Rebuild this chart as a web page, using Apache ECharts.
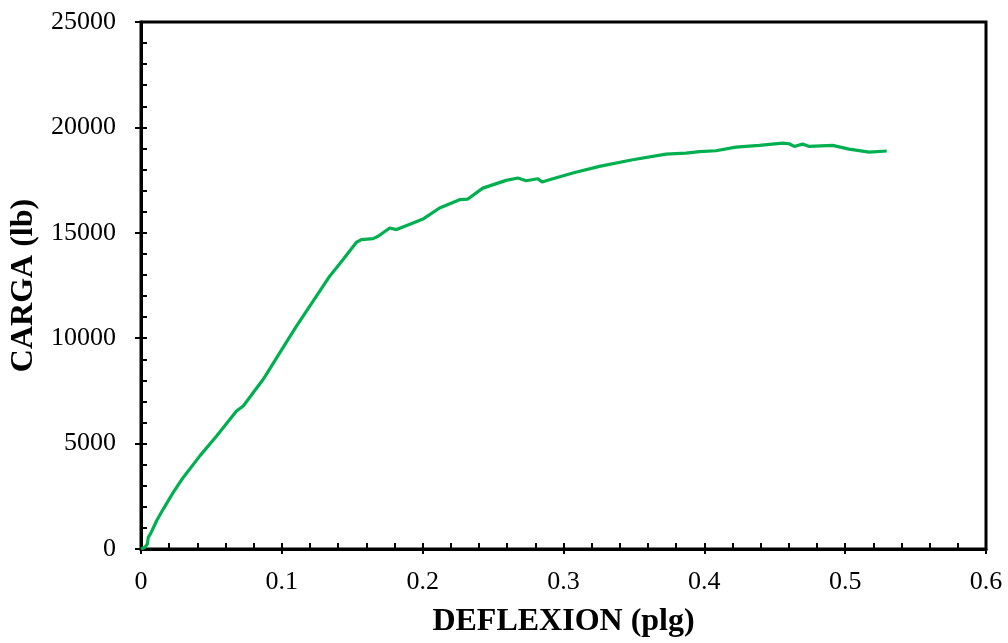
<!DOCTYPE html>
<html>
<head>
<meta charset="utf-8">
<script src="https://cdn.jsdelivr.net/npm/echarts@6/dist/echarts.min.js"></script>
<style>html,body{margin:0;padding:0;background:#fff;}#c{width:1008px;height:643px;}</style>
</head>
<body>
<div id="c"></div>
<script>
var deflexion = [0, 0.0028, 0.0045, 0.0052, 0.0069, 0.0111, 0.0158, 0.0229, 0.030, 0.0418, 0.0537, 0.0678, 0.0726, 0.0868, 0.0986, 0.1104, 0.1222, 0.134, 0.1435, 0.153, 0.1565, 0.1648, 0.1684, 0.1766, 0.1814, 0.1932, 0.2002, 0.212, 0.2262, 0.2321, 0.2427, 0.2593, 0.2676, 0.2735, 0.2818, 0.2848, 0.2924, 0.3066, 0.3255, 0.3491, 0.3728, 0.387, 0.3965, 0.4082, 0.4224, 0.439, 0.4556, 0.4603, 0.4638, 0.4697, 0.4745, 0.491, 0.5028, 0.517, 0.5295];
var carga = [0, 80, 237, 553, 742, 1341, 1894, 2683, 3394, 4418, 5365, 6548, 6785, 8049, 9312, 10575, 11758, 12942, 13731, 14552, 14678, 14725, 14835, 15230, 15152, 15467, 15650, 16177, 16572, 16600, 17120, 17487, 17598, 17470, 17566, 17408, 17566, 17835, 18150, 18466, 18734, 18781, 18850, 18892, 19066, 19145, 19256, 19223, 19097, 19208, 19097, 19145, 18971, 18829, 18880];
var xTicks = {min: 0, max: 0.6, interval: 0.1};
var yTicks = {min: 0, max: 25000, interval: 5000};

var pts = deflexion.map(function(x, i){ return [x, carga[i]]; });
var font = '"Liberation Serif", "Times New Roman", serif';
var chart = echarts.init(document.getElementById('c'), null, {renderer: 'canvas'});
chart.setOption({
  animation: false,
  grid: {left: 141, right: 22, top: 22, bottom: 93, show: true, borderColor: '#000', borderWidth: 3, backgroundColor: 'transparent'},
  xAxis: [{
    type: 'value', min: xTicks.min, max: xTicks.max, interval: xTicks.interval,
    name: 'DEFLEXION (plg)', nameLocation: 'middle', nameGap: 57,
    nameTextStyle: {fontFamily: font, fontSize: 32, fontWeight: 'bold', color: '#000'},
    axisLine: {show: true, lineStyle: {color: '#000', width: 3}},
    axisTick: {show: true, inside: false, length: 5, lineStyle: {color: '#000', width: 2}},
    axisLabel: {fontFamily: font, fontSize: 26, color: '#000', margin: 20, formatter: function(v){ return String(v); }},
    splitLine: {show: false}
  }, {
    type: 'value', min: xTicks.min, max: xTicks.max, interval: xTicks.interval, position: 'bottom',
    axisLine: {show: false},
    axisTick: {show: true, inside: true, length: 6, lineStyle: {color: '#000', width: 2}},
    minorTick: {show: true, splitNumber: 5, length: 6, lineStyle: {color: '#000', width: 2}},
    axisLabel: {show: false}, splitLine: {show: false}
  }],
  yAxis: [{
    type: 'value', min: yTicks.min, max: yTicks.max, interval: yTicks.interval,
    name: 'CARGA (lb)', nameLocation: 'middle', nameGap: 96,
    nameTextStyle: {fontFamily: font, fontSize: 32, fontWeight: 'bold', color: '#000'},
    axisLine: {show: true, lineStyle: {color: '#000', width: 3}},
    axisTick: {show: true, inside: false, length: 6, lineStyle: {color: '#000', width: 2}},
    axisLabel: {fontFamily: font, fontSize: 26, color: '#000', margin: 25, formatter: function(v){ return String(v); }},
    splitLine: {show: false}
  }, {
    type: 'value', min: yTicks.min, max: yTicks.max, interval: yTicks.interval, position: 'left',
    axisLine: {show: false},
    axisTick: {show: true, inside: true, length: 6, lineStyle: {color: '#000', width: 2}},
    minorTick: {show: true, splitNumber: 5, length: 6, lineStyle: {color: '#000', width: 2}},
    axisLabel: {show: false}, splitLine: {show: false}
  }],
  series: [{
    type: 'line', data: pts, xAxisIndex: 0, yAxisIndex: 0,
    showSymbol: false, symbol: 'none', smooth: false,
    lineStyle: {color: '#00B050', width: 3.2}
  }]
});
</script>
</body>
</html>
